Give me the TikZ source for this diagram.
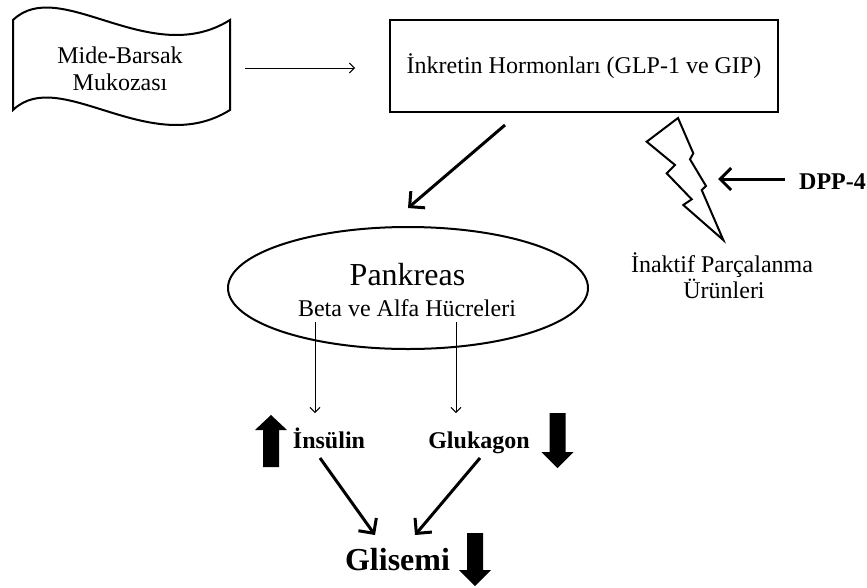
\documentclass[tikz,border=0pt]{standalone}
\usepackage{fontspec}
\setmainfont{Liberation Serif}
\usetikzlibrary{arrows.meta,shapes.geometric}
\begin{document}
\begin{tikzpicture}[x=1pt,y=-1pt,
  txt/.style={inner sep=0pt,anchor=base,font=\fontsize{24}{28}\selectfont},
  btxt/.style={inner sep=0pt,anchor=base,font=\fontsize{24}{28}\selectfont\bfseries},
  bigtxt/.style={inner sep=0pt,anchor=base,font=\fontsize{32}{36}\selectfont},
  bigbtxt/.style={inner sep=0pt,anchor=base,font=\fontsize{32}{36}\selectfont\bfseries},
  outline/.style={draw=black,line width=2pt},
  thinarrow/.style={draw=black,line width=0.9pt,-{Straight Barb[length=5pt,width=10pt]}},
  thickarrow/.style={draw=black,line width=3pt,-{Straight Barb[length=11pt,width=22pt]}},
  blockarrow/.style={fill=black,draw=none}]
\useasboundingbox (0,0) rectangle (867,587);

% banner (wave shape)
\draw[outline] (13,20) .. controls (60,-25) and (150,70) .. (230,20) -- (230,110)
  .. controls (150,160) and (60,65) .. (13,110) -- cycle;
\node[txt] (mide) at (120,63) {Mide-Barsak};
\node[txt] (mukoza) at (120,90) {Mukozası};

% incretin box
\node[outline,minimum width=388pt,minimum height=92pt,inner sep=0pt,
      font=\fontsize{24}{28}\selectfont] (inkretin) at (584,66) {İnkretin Hormonları (GLP-1 ve GIP)};

\coordinate (a1s) at (245,68);
\coordinate (a1e) at (355,68);
\draw[thinarrow] (a1s) -- (a1e);

% pancreas
\node[outline,ellipse,minimum width=360pt,minimum height=122pt] (pankreas) at (408,288) {};
\node[bigtxt] (pank) at (407.5,285) {Pankreas};
\node[txt] (beta) at (407,316) {Beta ve Alfa Hücreleri};

\coordinate (a2s) at (505,125);
\coordinate (a2e) at (408,208);
\draw[thickarrow] (a2s) -- (a2e);

% lightning bolt
\draw[outline,line join=miter] (678,118) -- (693.3,153.3) -- (690,159.3) -- (706,186) -- (701.7,190)
  -- (723.3,240) -- (683.3,205) -- (691.7,199.3) -- (666.7,173.3) -- (675,165) -- (646.7,141.7) -- cycle;
\coordinate (bolt) at (718,179);
\node[btxt] (dpp) at (832.5,189) {DPP-4};
\coordinate (a3s) at (785,179);
\draw[thickarrow] (a3s) -- (bolt);
\node[txt] (inaktif) at (722,272) {İnaktif Parçalanma};
\node[txt] (urun) at (724,298) {Ürünleri};

% hormones
\coordinate (a4s) at (315,322);
\coordinate (a4e) at (315,413);
\coordinate (a5s) at (456,322);
\coordinate (a5e) at (456,413);
\draw[thinarrow] (a4s) -- (a4e);
\draw[thinarrow] (a5s) -- (a5e);

\node[btxt] (insulin) at (329,448) {İnsülin};
\node[btxt] (glukagon) at (479,448) {Glukagon};

\fill[blockarrow] (263,467) -- (263,430) -- (255,430) -- (271,415) -- (287,430) -- (279,430) -- (279,467) -- cycle;
\fill[blockarrow] (549.5,413) -- (549.5,452) -- (541.5,452) -- (557.5,468) -- (573.5,452) -- (565.5,452) -- (565.5,413) -- cycle;

% glycemia
\node[bigbtxt] (glisemi) at (397.5,570) {Glisemi};
\fill[blockarrow] (467,533) -- (467,570) -- (459,570) -- (475,586) -- (491,570) -- (483,570) -- (483,533) -- cycle;

\coordinate (a6s) at (320,458);
\coordinate (a6e) at (375,535);
\coordinate (a7s) at (480,458);
\coordinate (a7e) at (415,535);
\draw[thickarrow] (a6s) -- (a6e);
\draw[thickarrow] (a7s) -- (a7e);
\end{tikzpicture}
\end{document}
